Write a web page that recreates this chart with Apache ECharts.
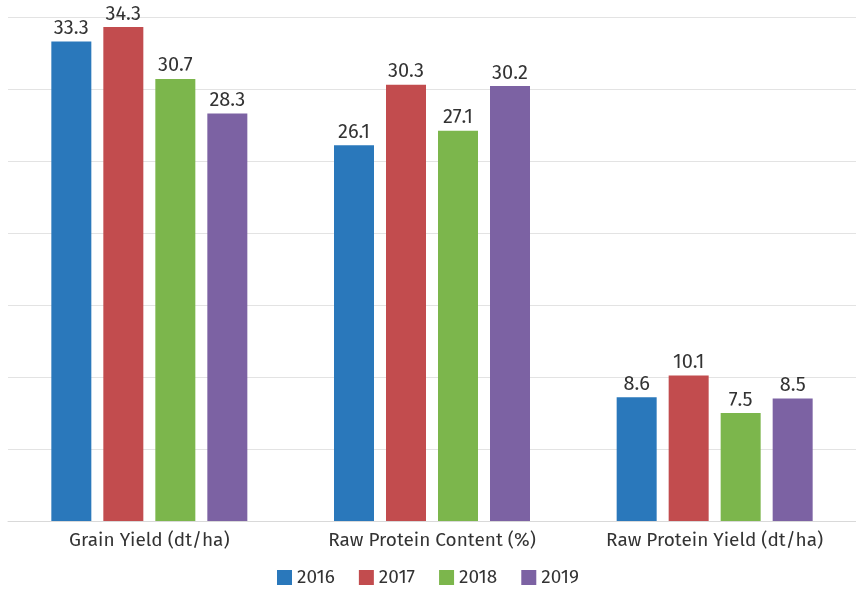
<!DOCTYPE html>
<html>
<head>
<meta charset="utf-8">
<script src="https://cdn.jsdelivr.net/npm/echarts@6/dist/echarts.min.js"></script>
<style>
  html, body { margin: 0; padding: 0; background: #ffffff; }
  #chart { width: 856px; height: 595px; }
</style>
</head>
<body>
<div id="chart"></div>
<script>
// Categories and yearly values
const categories = ['Grain Yield (dt/ha)', 'Raw Protein Content (%)', 'Raw Protein Yield (dt/ha)'];
const years = ['2016', '2017', '2018', '2019'];
const values2016 = [33.3, 26.1, 8.6];
const values2017 = [34.3, 30.3, 10.1];
const values2018 = [30.7, 27.1, 7.5];
const values2019 = [28.3, 30.2, 8.5];

const colors = ['#2a78bb', '#c24c4e', '#7cb64c', '#7c62a3'];
const seriesValues = [values2016, values2017, values2018, values2019];
const fontFamily = '"Fira Sans", "Open Sans", "Noto Sans", sans-serif';

const chart = echarts.init(document.getElementById('chart'), null, { renderer: 'canvas' });

chart.setOption({
  animation: false,
  backgroundColor: '#ffffff',
  color: colors,
  grid: { left: 8, right: 0, top: 17, bottom: 74, containLabel: false },
  legend: {
    bottom: 3,
    left: 'center',
    itemWidth: 15,
    itemHeight: 15,
    itemGap: 24,
    icon: 'rect',
    textStyle: { fontSize: 19, color: '#333333', fontFamily: fontFamily },
    data: years
  },
  xAxis: {
    type: 'category',
    data: categories,
    axisLine: { show: true, lineStyle: { color: '#d9d9d9', width: 1 } },
    axisTick: { show: false },
    axisLabel: { fontSize: 19, color: '#333333', fontFamily: fontFamily, margin: 10 }
  },
  yAxis: {
    type: 'value',
    min: 0,
    max: 35,
    interval: 5,
    axisLine: { show: false },
    axisTick: { show: false },
    axisLabel: { show: false },
    splitLine: { lineStyle: { color: '#e3e3e3', width: 1 } }
  },
  series: years.map((y, i) => ({
    name: y,
    type: 'bar',
    data: seriesValues[i],
    barWidth: 40,
    barGap: '30%',
    itemStyle: { color: colors[i] },
    label: {
      show: true,
      position: 'top',
      distance: 3,
      fontSize: 20,
      color: '#333333',
      fontFamily: fontFamily,
      formatter: p => p.value.toFixed(1)
    }
  }))
});
</script>
</body>
</html>
